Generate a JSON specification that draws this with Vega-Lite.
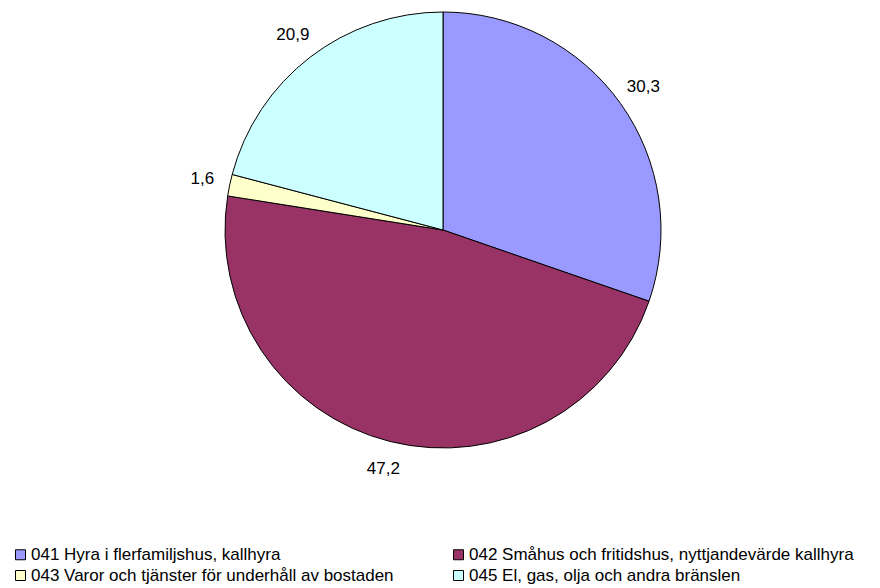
{
  "$schema": "https://vega.github.io/schema/vega-lite/v6.json",
  "width": 886,
  "height": 460,
  "autosize": "none",
  "padding": {"left": 0, "top": 0, "right": 0, "bottom": 128},
  "background": "white",
  "config": {"view": {"stroke": null}, "font": "Liberation Sans"},
  "data": {"values": [
    {"code": 1, "name": "041 Hyra i flerfamiljshus, kallhyra", "value": 30.3, "label": "30,3"},
    {"code": 2, "name": "042 Småhus och fritidshus, nyttjandevärde kallhyra", "value": 47.2, "label": "47,2"},
    {"code": 3, "name": "043 Varor och tjänster för underhåll av bostaden", "value": 1.6, "label": "1,6"},
    {"code": 4, "name": "045 El, gas, olja och andra bränslen", "value": 20.9, "label": "20,9"}
  ]},
  "encoding": {
    "theta": {"field": "value", "type": "quantitative", "stack": true},
    "order": {"field": "code", "type": "quantitative"}
  },
  "layer": [
    {
      "mark": {"type": "arc", "outerRadius": 218, "stroke": "black", "strokeWidth": 1},
      "encoding": {
        "color": {
          "field": "name", "type": "nominal",
          "scale": {
            "domain": ["041 Hyra i flerfamiljshus, kallhyra", "042 Småhus och fritidshus, nyttjandevärde kallhyra", "043 Varor och tjänster för underhåll av bostaden", "045 El, gas, olja och andra bränslen"],
            "range": ["#9999FF", "#993366", "#FFFFCC", "#CCFFFF"]
          },
          "legend": {
            "title": null,
            "orient": "none",
            "legendX": 12,
            "legendY": 546,
            "padding": 0,
            "direction": "horizontal",
            "columns": 2,
            "columnPadding": 56,
            "rowPadding": 3,
            "symbolType": "square",
            "symbolSize": 100,
            "symbolStrokeColor": "black",
            "symbolStrokeWidth": 1,
            "labelFontSize": 17,
            "labelFont": "Liberation Sans",
            "labelColor": "black",
            "labelOffset": 2,
            "labelLimit": 600
          }
        }
      }
    },
    {
      "mark": {"type": "text", "radius": 246, "fontSize": 17, "font": "Liberation Sans", "color": "black"},
      "encoding": {"text": {"field": "label", "type": "nominal"}}
    }
  ]
}
